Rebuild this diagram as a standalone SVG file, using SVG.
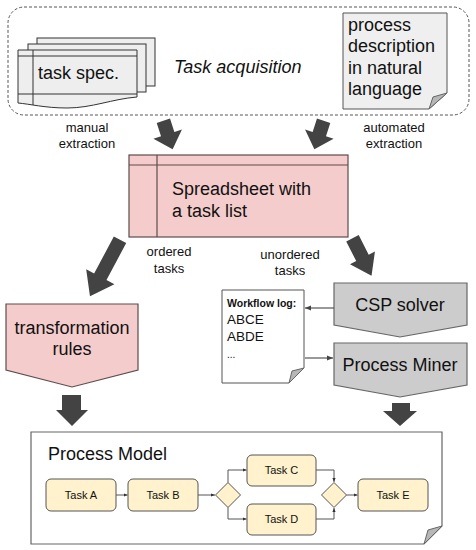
<svg xmlns="http://www.w3.org/2000/svg" width="476" height="550" viewBox="0 0 476 550">
<style>
text{font-family:"Liberation Sans",Arial,sans-serif;fill:#111;stroke:none}
.lbl{font-size:13px;text-anchor:middle}
.big{font-size:18px}
.mid{text-anchor:middle}
.sheet{fill:#eeeeee;stroke:#333;stroke-width:1}
.pink{fill:#f4cccc;stroke:#5e4b4b;stroke-width:1.2}
.gray{fill:#cccccc;stroke:#666;stroke-width:1.2}
.task{fill:#fff2cc;stroke:#555;stroke-width:1}
.task text{font-size:11px;text-anchor:middle;fill:#111;stroke:none}
.fold{fill:#b7b7b7;stroke:#666;stroke-width:1}
.blk{fill:#434343}
.conn{fill:none;stroke:#555;stroke-width:1.2}
</style>
<defs>
<marker id="ah" viewBox="0 0 10 10" refX="10" refY="5" markerWidth="5" markerHeight="5" orient="auto-start-reverse"><path d="M0,1 L10,5 L0,9 Z" fill="#444"/></marker>
<marker id="ahs" viewBox="0 0 10 10" refX="10" refY="5" markerWidth="4" markerHeight="4" orient="auto"><path d="M0,1 L10,5 L0,9 Z" fill="#333"/></marker>
</defs>

<g id="acquisition">
<rect x="8" y="7" width="461" height="108" rx="16" fill="none" stroke="#555" stroke-width="1" stroke-dasharray="3,2"/>
<text x="174" y="73" class="big" font-style="italic">Task acquisition</text>
</g>

<g id="task-spec">
<rect x="37" y="38" width="118" height="48" class="sheet"/>
<rect x="28" y="44" width="118" height="48" class="sheet"/>
<path d="M18,50 H137 V97 C112,99 92,108 67,108 C45,108 30,104 18,103 Z" class="sheet"/>
<path d="M18,56 H137 M18,94 H137 M33,50 V105" fill="none" stroke="#333" stroke-width="1"/>
<text x="38" y="79" class="big">task spec.</text>
</g>

<g id="process-description">
<path d="M343,13 H447 V93 L429,109 H343 Z" fill="#efefef" stroke="#555" stroke-width="1"/>
<path d="M429,109 L447,93 L433,97 Z" class="fold"/>
<text x="348" y="31" class="big">process</text>
<text x="348" y="52" class="big">description</text>
<text x="348" y="74" class="big">in natural</text>
<text x="348" y="95" class="big">language</text>
</g>

<g id="spreadsheet">
<rect x="129" y="155" width="219" height="82" class="pink"/>
<path d="M129,165 H348 M157,155 V237" fill="none" stroke="#5e4b4b" stroke-width="1.2"/>
<text x="172" y="195" class="big">Spreadsheet with</text>
<text x="172" y="217" class="big">a task list</text>
</g>

<g id="transformation-rules">
<path d="M6,304 H138 V370 L72,387 L6,370 Z" class="pink"/>
<text x="72" y="334" class="big mid">transformation</text>
<text x="72" y="355" class="big mid">rules</text>
</g>

<g id="workflow-log">
<path d="M222,290 H304 V368 L289,383 H222 Z" fill="#fff" stroke="#555" stroke-width="1"/>
<path d="M289,383 L304,368 L292,371 Z" class="fold"/>
<text x="227" y="307" font-size="10.5" font-weight="bold">Workflow log:</text>
<text x="227" y="324" font-size="13.5">ABCE</text>
<text x="227" y="341" font-size="13.5">ABDE</text>
<text x="227" y="358" font-size="10" fill="#444">...</text>
</g>

<g id="csp-solver">
<path d="M334,283 H467 V325 L400,337 L334,325 Z" class="gray"/>
<text x="400" y="311" class="big mid">CSP solver</text>
</g>

<g id="process-miner">
<path d="M334,343 H467 V385 L400,397 L334,385 Z" class="gray"/>
<text x="400" y="371" class="big mid">Process Miner</text>
</g>

<g id="process-model">
<path d="M31,432 H442 V526 L424,544 H31 Z" fill="#fff" stroke="#666" stroke-width="1.2"/>
<path d="M424,544 L442,526 L428,530 Z" class="fold"/>
<text x="48" y="460" class="big">Process Model</text>
<g id="task-a" class="task"><rect x="46" y="479" width="70" height="32" rx="5"/><text x="81" y="499">Task A</text></g>
<g id="task-b" class="task"><rect x="128" y="479" width="70" height="32" rx="5"/><text x="163" y="499">Task B</text></g>
<g id="task-c" class="task"><rect x="247" y="455" width="69" height="31" rx="5"/><text x="281.500" y="474">Task C</text></g>
<g id="task-d" class="task"><rect x="247" y="504" width="69" height="31" rx="5"/><text x="281.500" y="523">Task D</text></g>
<g id="task-e" class="task"><rect x="358" y="479" width="70" height="32" rx="5"/><text x="393" y="499">Task E</text></g>
<g id="gateway-1" class="task"><path d="M228,482.500 L240.500,495 L228,507.500 L215.500,495 Z"/></g>
<g id="gateway-2" class="task"><path d="M334,482.500 L346.500,495 L334,507.500 L321.500,495 Z"/></g>
</g>

<g id="connectors">
<path class="blk" transform="translate(168,135) rotate(-18)" d="M-7,-15 H7 V-1 H15 L0,15 L-15,-1 H-7 Z"/>
<path class="blk" transform="translate(319,135) rotate(18)" d="M-7,-15 H7 V-1 H15 L0,15 L-15,-1 H-7 Z"/>
<path class="blk" transform="translate(105,268) rotate(28)" d="M-7,-32 H7 V10 H16 L0,32 L-16,10 H-7 Z"/>
<path class="blk" transform="translate(362,257) rotate(-27)" d="M-7,-21 H7 V1 H14 L0,21 L-14,1 H-7 Z"/>
<path class="blk" d="M62,395 H81 V410 H88 L72,426 L56,410 H62 Z"/>
<path class="blk" d="M392,403 H410 V411 H417 L400,426 L383,411 H392 Z"/>
<path class="conn" d="M334,308 H305" marker-end="url(#ah)"/>
<path class="conn" d="M305,358 H333" marker-end="url(#ah)"/>
<g fill="none" stroke="#555" stroke-width="1">
<path d="M116,495 H127.500" marker-end="url(#ahs)"/>
<path d="M198,495 H215" marker-end="url(#ahs)"/>
<path d="M228,482.500 V470 H246.500" marker-end="url(#ahs)"/>
<path d="M228,507.500 V519 H246.500" marker-end="url(#ahs)"/>
<path d="M316,470 H334 V482" marker-end="url(#ahs)"/>
<path d="M316,519 H334 V508" marker-end="url(#ahs)"/>
<path d="M346.500,495 H357.500" marker-end="url(#ahs)"/>
</g>
</g>

<g id="labels">
<text x="87" y="132" class="lbl">manual</text>
<text x="87" y="148" class="lbl">extraction</text>
<text x="394" y="132" class="lbl">automated</text>
<text x="394" y="148" class="lbl">extraction</text>
<text x="169" y="256" class="lbl">ordered</text>
<text x="169" y="273" class="lbl">tasks</text>
<text x="290" y="259" class="lbl">unordered</text>
<text x="290" y="275" class="lbl">tasks</text>
</g>
</svg>
